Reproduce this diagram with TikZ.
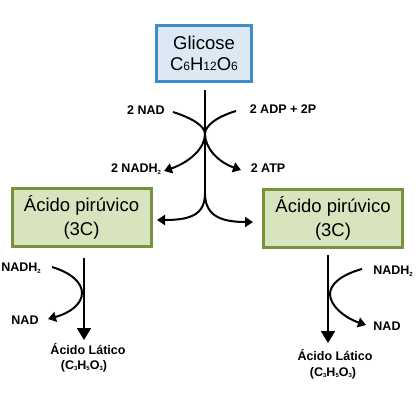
\documentclass[tikz,border=0pt]{standalone}
\usepackage{fontspec}
\setmainfont{Liberation Sans}
\usetikzlibrary{arrows.meta}
\definecolor{bluefill}{HTML}{DCE9F5}
\definecolor{blueline}{HTML}{3F8CCB}
\definecolor{greenfill}{HTML}{D7E4BD}
\definecolor{greenline}{HTML}{76923C}
\newcommand\sbs[1]{\raisebox{-1.5pt}{\fontsize{6}{6}\selectfont #1}}
\newcommand\gsb[1]{\raisebox{-0.5pt}{\fontsize{12}{12}\selectfont #1}}
\begin{document}
\begin{tikzpicture}[x=1pt,y=-1pt,
  bluebox/.style={draw=blueline, fill=bluefill, line width=3pt, minimum width=95pt, minimum height=56pt, align=center, inner sep=0pt, font=\fontsize{18.5}{21}\selectfont},
  greenbox/.style={draw=greenline, fill=greenfill, line width=3pt, minimum width=139pt, minimum height=58pt, align=center, inner sep=0pt, font=\fontsize{18.5}{24}\selectfont},
  lbl/.style={font=\fontsize{12.5}{14}\selectfont\bfseries, inner sep=1pt},
  curve/.style={line width=2pt, -{Triangle[width=10pt,length=8pt]}},
  plain/.style={line width=2pt},
  bigarrow/.style={line width=2pt, -{Triangle[width=14pt,length=12pt]}}]
\useasboundingbox (0,0) rectangle (420,416);
\fill[white] (0,0) rectangle (420,416);
% boxes
\node[bluebox] (glic) at (204,53.5) {Glicose\\C\gsb{6}H\gsb{12}O\gsb{6}};
\node[greenbox] (pirL) at (81.5,217.5) {Ácido pirúvico\\(3C)};
\node[greenbox] (pirR) at (333,218) {Ácido pirúvico\\(3C)};
% top labels
\node[lbl] (nad) at (146,110) {2 NAD};
\node[lbl] (adp) at (283,109) {2 ADP + 2P};
\node[lbl] (nadh) at (136,169) {2 NADH\sbs{2}};
\node[lbl] (atp) at (268,168) {2 ATP};
% coordinates
\coordinate (top) at (205,90);
\coordinate (split) at (205,193);
\coordinate (nadS) at (173,112);
\coordinate (nadE) at (164,171);
\coordinate (adpS) at (236,111);
\coordinate (adpE) at (241,170);
\coordinate (mid) at (205,134);
\coordinate (tipL) at (157,220);
\coordinate (tipR) at (253,222);
% main line
\draw[plain] (top) -- (split);
\draw[curve] (nadS) .. controls (192,118) and (205,126) .. (mid) .. controls (205,148) and (190,162) .. (nadE);
\draw[curve] (adpS) .. controls (216,117) and (205,126) .. (mid) .. controls (205,148) and (218,162) .. (adpE);
\draw[curve] (split) .. controls (205,214) and (192,220) .. (tipL);
\draw[curve] (split) .. controls (205,214) and (218,222) .. (tipR);
% bottom left
\node[lbl] (nadhL) at (21,268) {NADH\sbs{2}};
\node[lbl] (nadL) at (25,320) {NAD};
\node[lbl] (latL) at (88,349) {Ácido Lático};
\node[lbl] (formL) at (84,366) {(C\sbs{3}H\sbs{5}O\sbs{3})};
\coordinate (vLs) at (84,258);
\coordinate (vLe) at (84,340);
\coordinate (cLs) at (52,267);
\coordinate (cLm) at (82,293);
\coordinate (cLe) at (48,319);
\draw[bigarrow] (vLs) -- (vLe);
\draw[curve] (cLs) .. controls (72,273) and (82,283) .. (cLm) .. controls (82,304) and (70,313) .. (cLe);
% bottom right
\node[lbl] (nadhR) at (393,271) {NADH\sbs{2}};
\node[lbl] (nadR) at (387,326) {NAD};
\node[lbl] (latR) at (335,355) {Ácido Lático};
\node[lbl] (formR) at (333,373) {(C\sbs{3}H\sbs{5}O\sbs{3})};
\coordinate (vRs) at (328,255);
\coordinate (vRe) at (328,343);
\coordinate (cRs) at (362,269);
\coordinate (cRm) at (330,294);
\coordinate (cRe) at (366,325);
\draw[bigarrow] (vRs) -- (vRe);
\draw[curve] (cRs) .. controls (340,275) and (330,285) .. (cRm) .. controls (330,306) and (345,318) .. (cRe);
\end{tikzpicture}
\end{document}
